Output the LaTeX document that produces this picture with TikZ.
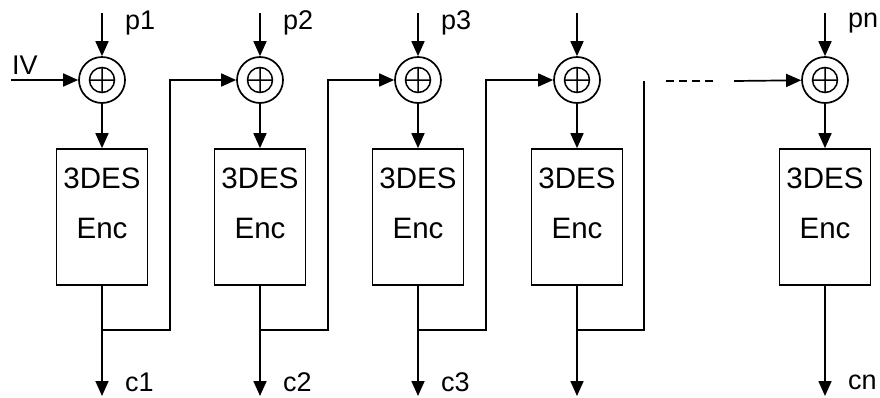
\documentclass[tikz,border=0pt]{standalone}
\usepackage{fontspec}
\setmainfont{Liberation Sans}
\usetikzlibrary{arrows.meta}
\tikzset{
  wire/.style={line width=1.7pt},
  flow/.style={line width=1.7pt,-{Triangle[length=15pt,width=13pt]}},
  dashwire/.style={line width=1.7pt,dash pattern=on 8pt off 5pt},
  xorop/.style={circle,draw,line width=1.7pt,minimum size=46pt,inner sep=0pt,
    path picture={\draw[line width=1.5pt] (path picture bounding box.center) circle (12.5pt)
      ([xshift=-12.5pt]path picture bounding box.center) -- ([xshift=12.5pt]path picture bounding box.center)
      ([yshift=-12.5pt]path picture bounding box.center) -- ([yshift=12.5pt]path picture bounding box.center);}},
  block/.style={rectangle,draw,line width=1.7pt,minimum width=91pt,minimum height=136pt},
  blocktxt/.style={align=center,inner sep=0pt,font=\fontsize{29.5}{50}\selectfont},
  lbl/.style={anchor=west,inner sep=0pt,font=\fontsize{27}{30}\selectfont}
}

\begin{document}
\begin{tikzpicture}[x=1pt,y=-1pt]
\useasboundingbox (0,0) rectangle (880,397);
% xor stages
\node[xorop] (x1) at (102,80) {};
\node[xorop] (x2) at (260,80) {};
\node[xorop] (x3) at (418,80) {};
\node[xorop] (x4) at (577,80) {};
\node[xorop] (x5) at (825,80) {};
% cipher blocks
\node[block] (b1) at (102,217) {}; \node[blocktxt] (t1) at (102,203) {3DES\\Enc};
\node[block] (b2) at (260,217) {}; \node[blocktxt] (t2) at (260,203) {3DES\\Enc};
\node[block] (b3) at (418,217) {}; \node[blocktxt] (t3) at (418,203) {3DES\\Enc};
\node[block] (b4) at (577,217) {}; \node[blocktxt] (t4) at (577,203) {3DES\\Enc};
\node[block] (b5) at (825,217) {}; \node[blocktxt] (t5) at (825,203) {3DES\\Enc};
% plaintext inputs
\coordinate (p1) at (102,13); \coordinate (p2) at (260,13); \coordinate (p3) at (418,13);
\coordinate (p4) at (577,13); \coordinate (p5) at (825,13);
\draw[flow] (p1) -- (x1); \draw[flow] (p2) -- (x2); \draw[flow] (p3) -- (x3);
\draw[flow] (p4) -- (x4); \draw[flow] (p5) -- (x5);
\node[lbl] (lp1) at (125,23) {p1};
\node[lbl] (lp2) at (283,23) {p2};
\node[lbl] (lp3) at (441,23) {p3};
\node[lbl] (lp5) at (848,23) {pn};
% IV
\coordinate (iv) at (11,80);
\draw[flow] (iv) -- (x1);
\node[lbl] (liv) at (12,65) {IV};
% xor to cipher
\draw[flow] (x1) -- (b1); \draw[flow] (x2) -- (b2); \draw[flow] (x3) -- (b3);
\draw[flow] (x4) -- (b4); \draw[flow] (x5) -- (b5);
% ciphertext outputs
\coordinate (c1) at (102,396); \coordinate (c2) at (260,396); \coordinate (c3) at (418,396);
\coordinate (c4) at (577,396); \coordinate (c5) at (825,396);
\draw[flow] (b1) -- (c1); \draw[flow] (b2) -- (c2); \draw[flow] (b3) -- (c3);
\draw[flow] (b4) -- (c4); \draw[flow] (b5) -- (c5);
\node[lbl] (lc1) at (125,382) {c1};
\node[lbl] (lc2) at (283,382) {c2};
\node[lbl] (lc3) at (441,382) {c3};
\node[lbl] (lc5) at (848,382) {cn};
% chaining
\coordinate (j1) at (102,330); \coordinate (k1) at (170,330);
\coordinate (j2) at (260,330); \coordinate (k2) at (328,330);
\coordinate (j3) at (418,330); \coordinate (k3) at (486,330);
\coordinate (j4) at (577,330); \coordinate (k4) at (644,330); \coordinate (e4) at (644,81);
\draw[flow] (j1) -- (k1) |- (x2);
\draw[flow] (j2) -- (k2) |- (x3);
\draw[flow] (j3) -- (k3) |- (x4);
\draw[wire] (j4) -- (k4) -- (e4);
\coordinate (d1) at (666,81); \coordinate (d2) at (713,81); \coordinate (d3) at (734,81);
\draw[dashwire] (d1) -- (d2);
\draw[flow] (d3) -- (x5);
\end{tikzpicture}
\end{document}
